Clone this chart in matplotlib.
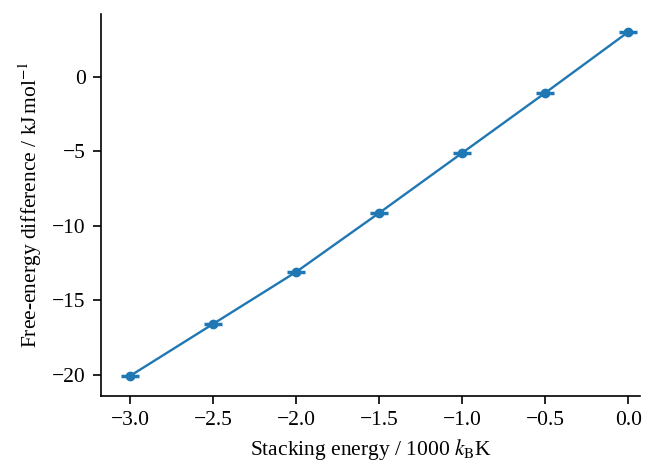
import matplotlib
matplotlib.use("Agg")
from matplotlib import pyplot as plt

plt.rcParams['font.family'] = ['Liberation Serif', 'DejaVu Serif']
plt.rcParams['mathtext.fontset'] = 'stix'
plt.rcParams['font.size'] = 15.5

stacking_energy = [-3.0, -2.5, -2.0, -1.5, -1.0, -0.5, 0.0]
free_energy = [-20.07, -16.58, -13.09, -9.13, -5.10, -1.07, 3.02]
x_error = [0.055, 0.055, 0.055, 0.055, 0.055, 0.055, 0.055]

fig, ax = plt.subplots(figsize=(6.52, 4.63), dpi=100)
ax.errorbar(stacking_energy, free_energy, xerr=x_error, color="#1f77b4",
            marker="o", markersize=6, linewidth=1.7, elinewidth=2.5)
ax.set_xlim(-3.175, 0.072)
ax.set_ylim(-21.41, 4.23)
ax.set_xticks([-3.0, -2.5, -2.0, -1.5, -1.0, -0.5, 0.0])
ax.set_yticks([-20, -15, -10, -5, 0])
ax.tick_params(length=6, width=1.2, pad=5)
ax.set_xlabel(r"Stacking energy / 1000 $k_\mathrm{B}$K", labelpad=5)
ax.set_ylabel(r"Free-energy difference / kJ$\,$mol$^{-1}$", labelpad=6)
for s in ['left', 'bottom']:
    ax.spines[s].set_linewidth(1.2)
ax.spines['top'].set_visible(False)
ax.spines['right'].set_visible(False)
fig.subplots_adjust(left=0.155, right=0.982, top=0.97, bottom=0.145)
fig.savefig("out.png")
